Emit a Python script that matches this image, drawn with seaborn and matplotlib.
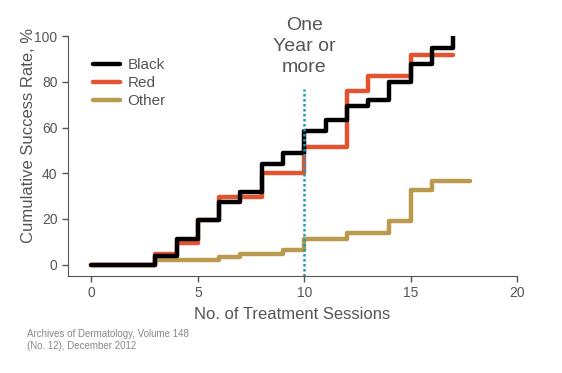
import pandas as pd
import matplotlib.pyplot as plt
import seaborn as sns

# datos (escalones, steps-post)
sesionesBlack = [0, 3, 4, 5, 6, 7, 8, 9, 10, 11, 12, 13, 14, 15, 16, 17]
tasaBlack = [0, 3.6, 11.3, 19.6, 27.2, 32, 44, 48.8, 58.5, 63.3, 69.4, 72, 80, 88, 95, 100]

sesionesRed = [0, 3, 4, 5, 6, 8, 10, 12, 13, 15, 17]
tasaRed = [0, 4.8, 9.5, 19.6, 29.6, 40.3, 51.7, 76, 82.5, 91.7, 91.7]

sesionesOther = [0, 3, 6, 7, 9, 10, 12, 14, 15, 16, 17.8]
tasaOther = [0, 2.2, 3.3, 4.7, 6.3, 11.2, 13.8, 19, 32.7, 36.8, 36.8]

grupos = ['Black', 'Red', 'Other']
colores = {'Black': '#000000', 'Red': '#e4532f', 'Other': '#b99a4f'}

df = pd.concat([
    pd.DataFrame({'sesiones': sesionesBlack, 'tasa': tasaBlack, 'grupo': 'Black'}),
    pd.DataFrame({'sesiones': sesionesRed, 'tasa': tasaRed, 'grupo': 'Red'}),
    pd.DataFrame({'sesiones': sesionesOther, 'tasa': tasaOther, 'grupo': 'Other'}),
], ignore_index=True)

sns.set_style('ticks')
plt.rcParams['font.family'] = ['Liberation Sans', 'DejaVu Sans']
gris = '#555555'

fig = plt.figure(figsize=(5.62, 3.73), dpi=100)
ax = fig.add_axes([0.121, 0.26, 0.799, 0.643])

# dibujar Other, Red y Black (Black encima)
for g in ['Other', 'Red', 'Black']:
    sns.lineplot(data=df[df['grupo'] == g], x='sesiones', y='tasa', ax=ax,
                 color=colores[g], lw=3.2, drawstyle='steps-post',
                 estimator=None, sort=False, label=g, legend=False)

ax.axvline(10, ymin=0, ymax=0.78, color='#1b9ab3', lw=1.8, ls=(0, (1, 1)))
ax.text(10, 95.5, 'One\nYear or\nmore', ha='center', va='center', fontsize=14,
        color=gris, linespacing=1.3)

ax.set_xlim(-1.1, 20)
ax.set_ylim(-5, 100)
ax.set_xticks([0, 5, 10, 15, 20])
ax.set_yticks([0, 20, 40, 60, 80, 100])
sns.despine(ax=ax)
for s in ['left', 'bottom']:
    ax.spines[s].set_color(gris)
ax.tick_params(colors=gris, labelcolor=gris, labelsize=10, length=4, width=1)
ax.set_xlabel('No. of Treatment Sessions', fontsize=12, color=gris, labelpad=5)
ax.set_ylabel('Cumulative Success Rate, %', fontsize=12, color=gris)
ax.yaxis.set_label_coords(-0.072, 0.585)

handles, labels = ax.get_legend_handles_labels()
orden = [labels.index(g) for g in grupos]
ax.legend([handles[i] for i in orden], grupos, loc='upper left',
          bbox_to_anchor=(0.025, 0.965), frameon=False, fontsize=11,
          handlelength=1.8, handletextpad=0.45, labelspacing=0.25, labelcolor=gris)

fig.text(0.048, 0.089, 'Archives of Dermatology, Volume 148\n(No. 12), December 2012',
         fontsize=7, color='#888888', va='center', linespacing=1.3)

plt.savefig('out.png', dpi=100)
